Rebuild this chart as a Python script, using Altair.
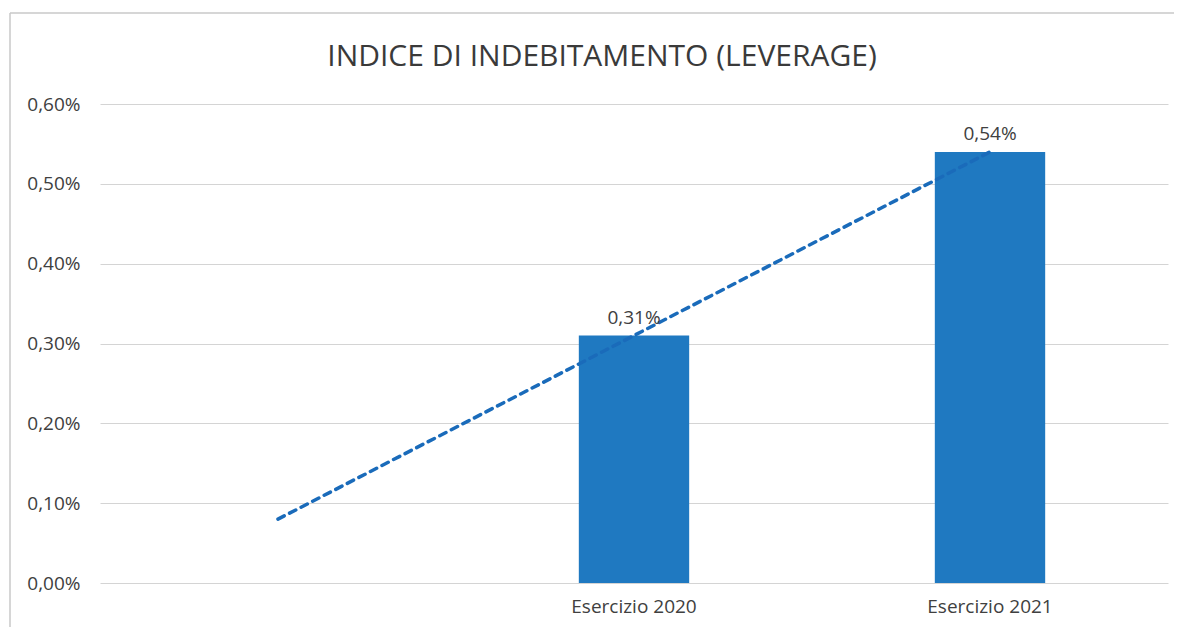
import altair as alt
import pandas as pd

categories = ["", "Esercizio 2020", "Esercizio 2021"]
values = [None, 0.31, 0.54]
labels = ["", "0,31%", "0,54%"]
trend = [0.08, 0.31, 0.54]
y_ticks = [0.0, 0.1, 0.2, 0.3, 0.4, 0.5, 0.6]
title_text = ["INDICE DI INDEBITAMENTO (LEVERAGE)"]

df = pd.DataFrame({"cat": categories, "val": values, "lab": labels, "trend": trend})
bars_df = df[df["val"].notna()]
title_df = pd.DataFrame({"t": title_text})

FONT = "Open Sans"
TXT = "#404040"
FS = 19

x_scale = alt.Scale(domain=categories, paddingInner=0.69, paddingOuter=0.345)
y_scale = alt.Scale(domain=[0, 0.6], nice=False)

bars = alt.Chart(bars_df).mark_bar(color="#1F79C1").encode(
    x=alt.X(
        "cat:N", scale=x_scale,
        axis=alt.Axis(
            title=None, labelAngle=0, ticks=False, domain=False, grid=False,
            labelFontSize=FS, labelColor=TXT, labelFont=FONT, labelPadding=14,
        ),
    ),
    y=alt.Y(
        "val:Q", scale=y_scale,
        axis=alt.Axis(
            title=None, values=y_ticks, ticks=False, domain=False,
            labelExpr="replace(format(datum.value, '.2f'), '.', ',') + '%'",
            labelFontSize=FS, labelColor=TXT, labelFont=FONT, labelPadding=20,
            gridColor="#d4d4d4", gridWidth=1,
        ),
    ),
)

text = alt.Chart(bars_df).mark_text(
    baseline="bottom", dy=-8, fontSize=FS, color=TXT, font=FONT
).encode(x=alt.X("cat:N", scale=x_scale), y=alt.Y("val:Q", scale=y_scale), text="lab:N")

trend_line = alt.Chart(df).mark_line(
    color="#1A6BBA", strokeWidth=3.5, strokeDash=[7, 6], strokeCap="round"
).encode(x=alt.X("cat:N", scale=x_scale), y=alt.Y("trend:Q", scale=y_scale))

frame_left = alt.Chart(title_df).mark_rule(color="#c8c8c8", strokeWidth=1.5).encode(
    x=alt.value(-90), y=alt.value(-91), y2=alt.value(540)
)
frame_top = alt.Chart(title_df).mark_rule(color="#c8c8c8", strokeWidth=1.5).encode(
    x=alt.value(-90), x2=alt.value(1078), y=alt.value(-91)
)

title = alt.Chart(title_df).mark_text(
    fontSize=30, color="#3a3a3a", font=FONT, baseline="middle", align="center"
).encode(x=alt.value(502), y=alt.value(-47), text="t:N")

chart = alt.layer(frame_left, frame_top, bars, trend_line, text, title).properties(
    width=1068,
    height=479,
    autosize=alt.AutoSizeParams(type="none"),
    padding={"left": 92, "top": 96, "right": 6, "bottom": 44},
).configure(background="white").configure_view(strokeWidth=0, stroke="transparent")

chart.save("out.html", embed_options={"renderer": "svg", "actions": False})
